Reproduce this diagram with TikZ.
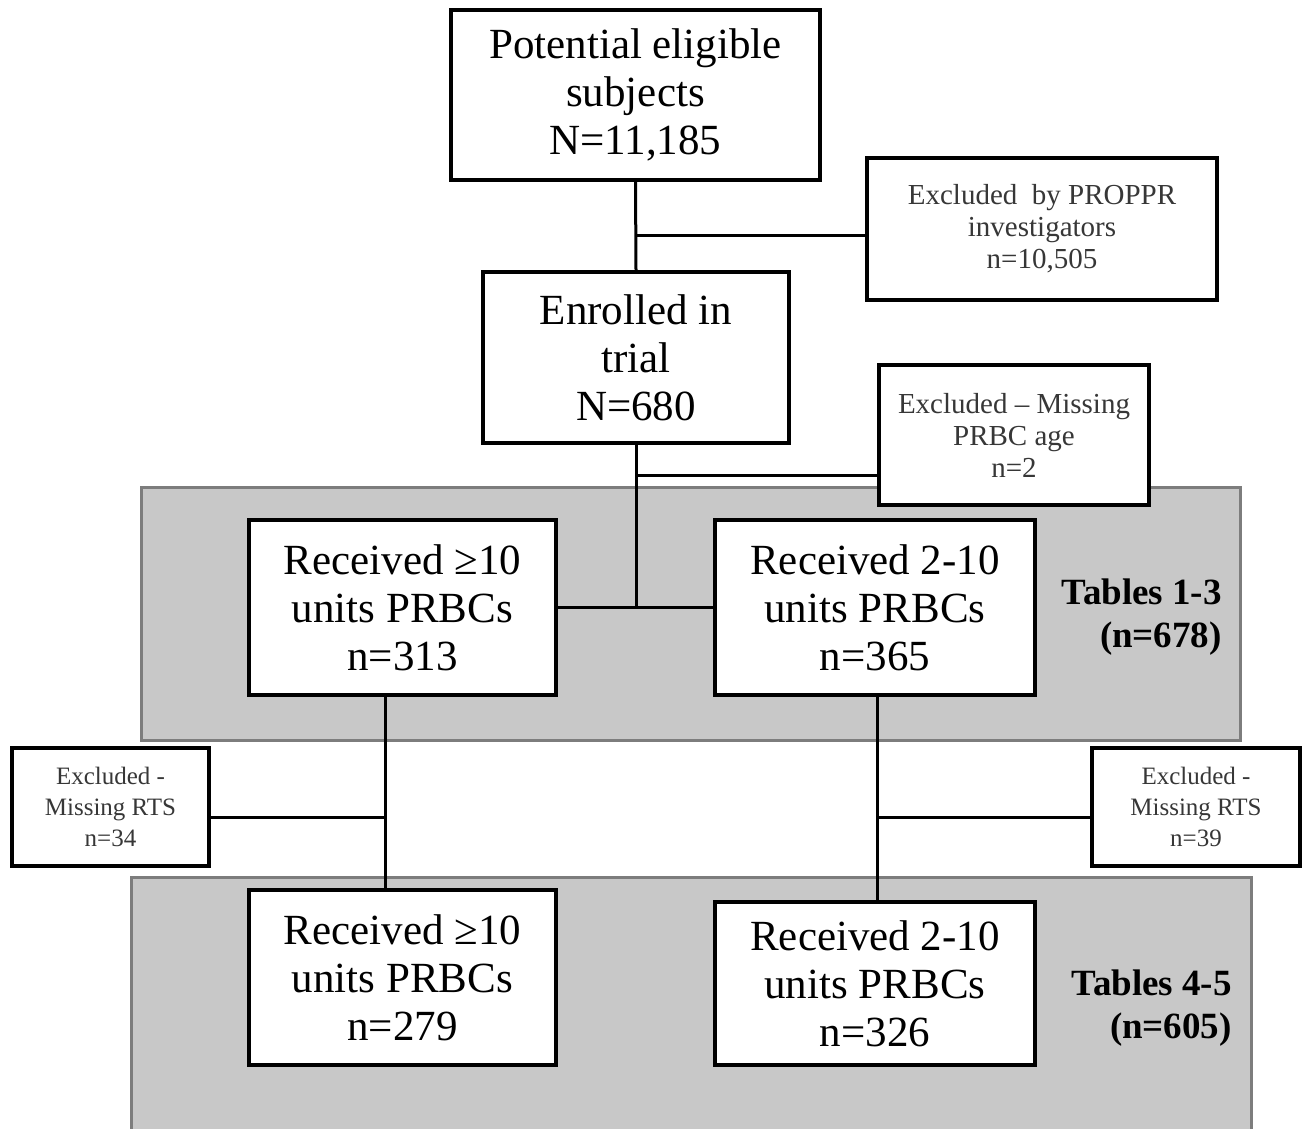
\documentclass[tikz,border=0pt]{standalone}
\usepackage{fontspec}
\setmainfont{Liberation Serif}
\usepackage{xcolor}
\usepackage{tikz}
\definecolor{panelfill}{RGB}{200,200,200}
\definecolor{panelline}{RGB}{125,125,125}
\definecolor{smalltext}{RGB}{55,55,55}
\tikzset{
  bigbox/.style={draw,line width=3.5pt,fill=white,align=center,inner sep=0pt,font=\fontsize{43}{48}\selectfont},
  smallbox/.style={draw,line width=3.5pt,fill=white,align=center,inner sep=0pt,text=smalltext,font=\fontsize{29}{32}\selectfont},
  tinybox/.style={smallbox,font=\fontsize{25}{31}\selectfont},
  panel/.style={draw=panelline,line width=3pt,fill=panelfill},
  tablelabel/.style={align=right,anchor=east,inner sep=0pt,font=\bfseries\fontsize{37}{43}\selectfont},
  link/.style={line width=3pt}
}

\begin{document}
\begin{tikzpicture}[x=1pt,y=-1pt]
    \useasboundingbox (0,0) rectangle (1304,1128);
    \draw[panel] (141,487) rectangle (1240,740);
    \draw[panel] (131,877) rectangle (1251,1140);
    \node[bigbox,minimum width=369pt,minimum height=170pt] (elig) at (635.5,95) {Potential eligible\\subjects\\N=11,185};
    \node[smallbox,minimum width=350pt,minimum height=142pt] (exclinv) at (1042,229) {Excluded~ by PROPPR\\investigators\\n=10,505};
    \node[bigbox,minimum width=306pt,minimum height=171pt] (enrol) at (636,357.5) {Enrolled in\\trial\\N=680};
    \node[smallbox,minimum width=270pt,minimum height=140pt] (exclage) at (1014,435) {Excluded -- Missing\\PRBC age\\n=2};
    \node[bigbox,minimum width=307pt,minimum height=175pt] (recA) at (402.5,607.5) {Received ≥10\\units PRBCs\\n=313};
    \node[bigbox,minimum width=320pt,minimum height=175pt] (recB) at (875,607.5) {Received 2-10\\units PRBCs\\n=365};
    \node[tablelabel] (tabA) at (1222,617) {Tables 1-3\\(n=678)};
    \node[tinybox,minimum width=197pt,minimum height=118pt] (exclrtsA) at (110.5,807) {Excluded -\\Missing RTS\\n=34};
    \node[tinybox,minimum width=208pt,minimum height=118pt] (exclrtsB) at (1196,807) {Excluded -\\Missing RTS\\n=39};
    \node[bigbox,minimum width=307pt,minimum height=175pt] (finA) at (402.5,977.5) {Received ≥10\\units PRBCs\\n=279};
    \node[bigbox,minimum width=320pt,minimum height=163pt] (finB) at (875,983.5) {Received 2-10\\units PRBCs\\n=326};
    \node[tablelabel] (tabB) at (1232,1008) {Tables 4-5\\(n=605)};
    \coordinate (j1) at (636,235);
    \coordinate (j2) at (636,475);
    \coordinate (j3) at (385,817);
    \coordinate (j4) at (877,817);
    \draw[link] (elig.south) -- (enrol.north);
    \draw[link] (j1) -- (j1 -| exclinv.west);
    \draw[link] (enrol.south) -- (enrol.south |- recA.east);
    \draw[link] (j2) -- (j2 -| exclage.west);
    \draw[link] (recA.east) -- (recB.west);
    \draw[link] (j3 |- recA.south) -- (j3 |- finA.north);
    \draw[link] (exclrtsA.east |- j3) -- (j3);
    \draw[link] (j4 |- recB.south) -- (j4 |- finB.north);
    \draw[link] (j4) -- (j4 -| exclrtsB.west);
\end{tikzpicture}
\end{document}
